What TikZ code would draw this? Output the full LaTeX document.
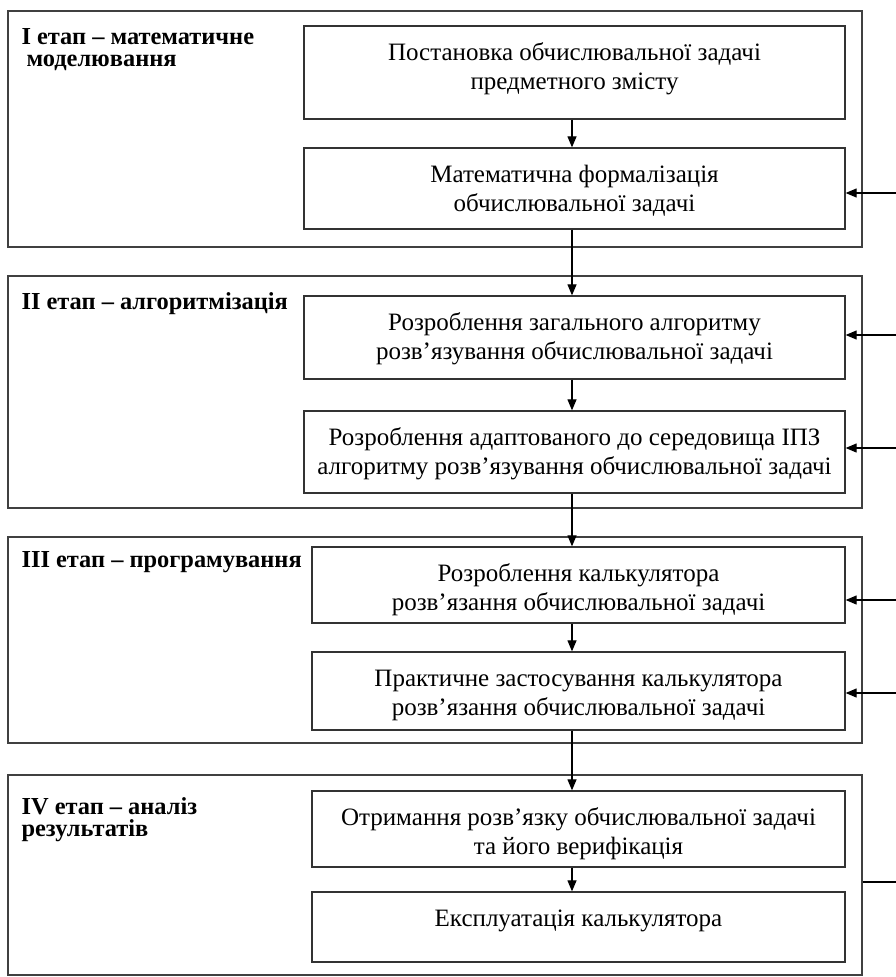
\documentclass[tikz,border=0pt]{standalone}
\usepackage{fontspec}
\setmainfont{Liberation Serif}
\usetikzlibrary{arrows.meta,calc}

% text of a box: fixed height, lines from the top
\newcommand{\boxtxt}[2]{\parbox[c][#1][t]{530pt}{\centering\rule{0pt}{34pt}\ignorespaces#2}}

\tikzset{
  stageframe/.style={draw=black!75, line width=1.3pt, inner sep=0pt},
  stagetitle/.style={anchor=north west, inner sep=0pt, align=left,
                     font=\bfseries\fontsize{24.4}{22}\selectfont},
  stepbox/.style={draw=black!80, line width=1.3pt, inner sep=0pt,
                  font=\fontsize{25}{29}\selectfont},
  flow/.style={line width=1.2pt, -{Triangle[length=11pt,width=9pt]}},
}

\begin{document}
\begin{tikzpicture}[x=1pt, y=-1pt]
    \useasboundingbox (0,0) rectangle (896,977);

    % === STAGE FRAMES ===
    \node[stageframe, minimum width=854pt, minimum height=236pt] (s1) at (435,129) {};
    \node[stageframe, minimum width=854pt, minimum height=232pt] (s2) at (435,392) {};
    \node[stageframe, minimum width=854pt, minimum height=206pt] (s3) at (435,640) {};
    \node[stageframe, minimum width=854pt, minimum height=200pt] (s4) at (435,875) {};

    % stage titles
    \node[stagetitle] (t1) at ($(s1.north west)+(14,0)$) {\rule{0pt}{34pt}I етап -- математичне\\\hspace*{5pt}моделювання};
    \node[stagetitle] (t2) at ($(s2.north west)+(14,0)$) {\rule{0pt}{34pt}II етап -- алгоритмізація};
    \node[stagetitle] (t3) at ($(s3.north west)+(14,0)$) {\rule{0pt}{31pt}III етап -- програмування};
    \node[stagetitle] (t4) at ($(s4.north west)+(14,0)$) {\rule{0pt}{40pt}IV етап -- аналіз\\результатів};

    % === STEP BOXES ===
    \node[stepbox, minimum width=541pt] (b1) at (574.5,72.5) {\boxtxt{93pt}{Постановка обчислювальної задачі\\предметного змісту}};
    \node[stepbox, minimum width=541pt] (b2) at (574.5,188.5) {\boxtxt{81pt}{Математична формалізація\\обчислювальної задачі}};
    \node[stepbox, minimum width=541pt] (b3) at (574.5,337.5) {\boxtxt{83pt}{Розроблення загального алгоритму\\розв’язування обчислювальної задачі}};
    \node[stepbox, minimum width=541pt] (b4) at (574.5,452) {\boxtxt{82pt}{Розроблення адаптованого до середовища ІПЗ\\алгоритму розв’язування обчислювальної задачі}};
    \node[stepbox, minimum width=533pt] (b5) at (578.5,585) {\boxtxt{76pt}{Розроблення калькулятора\\розв’язання обчислювальної задачі}};
    \node[stepbox, minimum width=533pt] (b6) at (578.5,691) {\boxtxt{78pt}{Практичне застосування калькулятора\\розв’язання обчислювальної задачі}};
    \node[stepbox, minimum width=533pt] (b7) at (578.5,829) {\boxtxt{76pt}{Отримання розв’язку обчислювальної задачі\\та його верифікація}};
    \node[stepbox, minimum width=533pt] (b8) at (578.5,927) {\boxtxt{70pt}{Експлуатація калькулятора}};

    % === MAIN FLOW ===
    \coordinate (axis) at (572,0);
    \foreach \a/\b in {b1/b2, b2/b3, b3/b4, b4/b5, b5/b6, b6/b7, b7/b8}
        \draw[flow] (\a.south -| axis) -- (\b.north -| axis);

    % === FEEDBACK FROM THE RIGHT ===
    \coordinate (r2) at (896,193);
    \coordinate (r3) at (896,335);
    \coordinate (r4) at (896,448);
    \coordinate (r5) at (896,600);
    \coordinate (r6) at (896,693);
    \foreach \b in {2,...,6}
        \draw[flow] (r\b) -- (b\b.east |- r\b);
    \coordinate (r4out) at (896,882);
    \draw[line width=1.2pt] (s4.east |- r4out) -- (r4out);
\end{tikzpicture}
\end{document}
